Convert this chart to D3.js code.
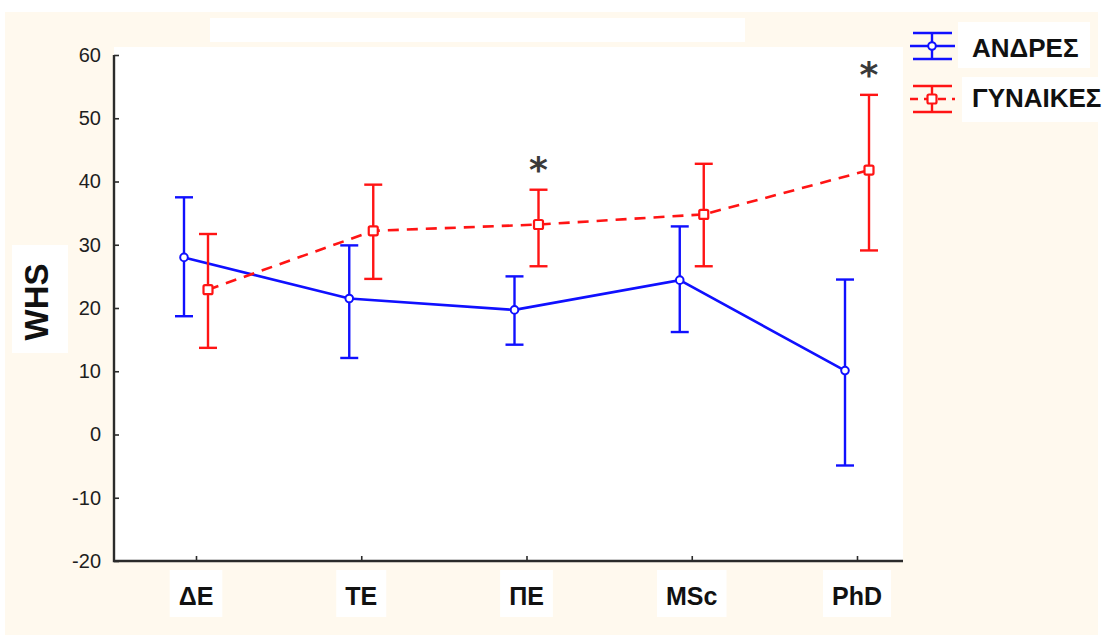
<!DOCTYPE html>
<html>
<head>
<meta charset="utf-8">
<script src="https://cdn.jsdelivr.net/npm/d3@7"></script>
<style>
  body { margin: 0; background: #ffffff; }
  svg { display: block; }
</style>
</head>
<body>
<svg id="chart" width="1102" height="635"></svg>
<script>
// Education levels on the x axis
const categories = ["ΔΕ", "ΤΕ", "ΠΕ", "MSc", "PhD"];
const yTickValues = [-20, -10, 0, 10, 20, 30, 40, 50, 60];
const seriesNames = ["ΑΝΔΡΕΣ", "ΓΥΝΑΙΚΕΣ"];

// WHS means with confidence limits, men
const menMean = [28.0, 21.5, 19.7, 24.4, 10.1];
const menLow  = [18.7, 12.1, 14.2, 16.2, -4.9];
const menHigh = [37.5, 29.9, 25.0, 32.9, 24.5];

// WHS means with confidence limits, women
const womenMean = [22.9, 32.2, 33.2, 34.8, 41.8];
const womenLow  = [13.7, 24.6, 26.6, 26.6, 29.1];
const womenHigh = [31.7, 39.5, 38.7, 42.8, 53.7];

// Levels where the gender difference is significant
const significant = ["ΠΕ", "PhD"];

const BLUE = "#1010ff";
const RED = "#ff1414";
const AXIS = "#2b2b2b";
const CREAM = "#fff9ee";

const svg = d3.select("#chart");

const axisLeftX = 114, plotRight = 903, plotTop = 47, axisY = 561;

const x = d3.scalePoint().domain(categories).range([196, 857]);
const y = d3.scaleLinear().domain([-20, 60]).range([axisY, 55]);

// Backgrounds
svg.append("rect").attr("x", 0).attr("y", 0).attr("width", 1102).attr("height", 635).attr("fill", "#ffffff");
svg.append("rect").attr("x", 5).attr("y", 12).attr("width", 1093).attr("height", 623).attr("fill", CREAM);
svg.append("rect").attr("x", 210).attr("y", 18).attr("width", 535).attr("height", 24).attr("fill", "#ffffff");
svg.append("rect").attr("x", axisLeftX).attr("y", plotTop).attr("width", plotRight - axisLeftX).attr("height", axisY - plotTop).attr("fill", "#ffffff");

const men = categories.map((c, i) => ({ c, m: menMean[i], lo: menLow[i], hi: menHigh[i] }));
const women = categories.map((c, i) => ({ c, m: womenMean[i], lo: womenLow[i], hi: womenHigh[i] }));

const series = [
  { name: seriesNames[0], data: men, dx: -12, color: BLUE, dash: null, marker: "circle" },
  { name: seriesNames[1], data: women, dx: 12, color: RED, dash: "11,8", marker: "square" }
];

// Y axis (plain hyphen for negative values)
const yAxis = d3.axisLeft(y).tickValues(yTickValues).tickSize(-5).tickPadding(13).tickSizeOuter(0)
  .tickFormat(d => String(d));
const gy = svg.append("g").attr("transform", `translate(${axisLeftX},0)`).call(yAxis);
gy.select(".domain").remove();
gy.selectAll(".tick line").attr("stroke", AXIS).attr("stroke-width", 1.6);
gy.selectAll(".tick text")
  .attr("fill", "#1e1e1e")
  .style("font-family", "'Liberation Sans', Arial, sans-serif")
  .style("font-size", "20px");

// X axis
const xAxis = d3.axisBottom(x).tickSize(-5).tickSizeOuter(0).tickFormat(() => "");
const gx = svg.append("g").attr("transform", `translate(0,${axisY})`).call(xAxis);
gx.select(".domain").remove();
gx.selectAll(".tick line").attr("stroke", AXIS).attr("stroke-width", 1.6);

// Axis lines
svg.append("path")
  .attr("d", `M${axisLeftX},55V${axisY}H${plotRight}`)
  .attr("fill", "none").attr("stroke", AXIS).attr("stroke-width", 2.4);

// Category labels with their white boxes
const xl = svg.append("g");
categories.forEach(c => {
  const t = xl.append("text")
    .attr("x", x(c)).attr("y", 605)
    .attr("text-anchor", "middle")
    .attr("fill", "#111")
    .style("font-family", "'Liberation Sans', Arial, sans-serif")
    .style("font-weight", "bold")
    .style("font-size", "25px")
    .text(c);
  const b = t.node().getBBox();
  xl.insert("rect", "text")
    .attr("x", b.x - 9).attr("y", 570).attr("width", b.width + 18).attr("height", 47)
    .attr("fill", "#ffffff");
});

// Y axis title
svg.append("rect").attr("x", 12).attr("y", 245).attr("width", 56).attr("height", 108).attr("fill", "#ffffff");
svg.append("text")
  .attr("transform", "translate(48,302) rotate(-90)")
  .attr("text-anchor", "middle")
  .attr("fill", "#111")
  .style("font-family", "'Liberation Sans', Arial, sans-serif")
  .style("font-weight", "bold")
  .style("font-size", "33px")
  .text("WHS");

// Connecting lines
series.forEach(s => {
  const line = d3.line().x(d => x(d.c) + s.dx).y(d => y(d.m));
  svg.append("path")
    .datum(s.data)
    .attr("d", line)
    .attr("fill", "none")
    .attr("stroke", s.color)
    .attr("stroke-width", 2.6)
    .attr("stroke-dasharray", s.dash);
});

// Error bars
series.forEach(s => {
  const g = svg.append("g").attr("stroke", s.color).attr("stroke-width", 2.4);
  s.data.forEach(d => {
    const cx = x(d.c) + s.dx;
    g.append("line").attr("x1", cx).attr("x2", cx).attr("y1", y(d.lo)).attr("y2", y(d.hi));
    g.append("line").attr("x1", cx - 9).attr("x2", cx + 9).attr("y1", y(d.lo)).attr("y2", y(d.lo));
    g.append("line").attr("x1", cx - 9).attr("x2", cx + 9).attr("y1", y(d.hi)).attr("y2", y(d.hi));
  });
});

// Markers
function drawMarker(g, type, cx, cy, color) {
  if (type === "circle") {
    g.append("circle").attr("cx", cx).attr("cy", cy).attr("r", 3.8)
      .attr("fill", "#fff").attr("stroke", color).attr("stroke-width", 2);
  } else {
    g.append("rect").attr("x", cx - 4.5).attr("y", cy - 4.5).attr("width", 9).attr("height", 9)
      .attr("rx", 1.5).attr("fill", "#fff").attr("stroke", color).attr("stroke-width", 2.2);
  }
}
series.forEach(s => {
  const g = svg.append("g");
  s.data.forEach(d => drawMarker(g, s.marker, x(d.c) + s.dx, y(d.m), s.color));
});

// Significance asterisks above the women's upper limits
women.filter(d => significant.includes(d.c)).forEach(d => {
  svg.append("text")
    .attr("x", x(d.c) + 12).attr("y", y(d.hi) - 8)
    .attr("text-anchor", "middle")
    .attr("fill", "#3a3a3a")
    .style("font-family", "'DejaVu Sans', sans-serif")
    .style("font-weight", "bold")
    .style("font-size", "36px")
    .text("*");
});

// Legend
const legend = svg.append("g");
const legendRows = [
  { s: series[0], cy: 46, ty: 57, box: [958, 22, 132, 46] },
  { s: series[1], cy: 99, ty: 107, box: [962, 77, 138, 45] }
];
legendRows.forEach(r => {
  legend.append("rect").attr("x", r.box[0]).attr("y", r.box[1]).attr("width", r.box[2]).attr("height", r.box[3]).attr("fill", "#fff");
  const g = legend.append("g").attr("stroke", r.s.color).attr("stroke-width", 2.4);
  const cx = 932;
  g.append("line").attr("x1", 913).attr("x2", 952).attr("y1", r.cy - 13).attr("y2", r.cy - 13);
  g.append("line").attr("x1", 913).attr("x2", 952).attr("y1", r.cy + 13).attr("y2", r.cy + 13);
  g.append("line").attr("x1", cx).attr("x2", cx).attr("y1", r.cy - 13).attr("y2", r.cy + 13);
  g.append("line").attr("x1", 910).attr("x2", 955).attr("y1", r.cy).attr("y2", r.cy)
    .attr("stroke-dasharray", r.s.dash ? "8,6" : null);
  drawMarker(legend, r.s.marker, cx, r.cy, r.s.color);
  legend.append("text")
    .attr("x", 972).attr("y", r.ty)
    .attr("fill", "#111")
    .style("font-family", "'Liberation Sans', Arial, sans-serif")
    .style("font-weight", "bold")
    .style("font-size", "26px")
    .text(r.s.name);
});
</script>
</body>
</html>
